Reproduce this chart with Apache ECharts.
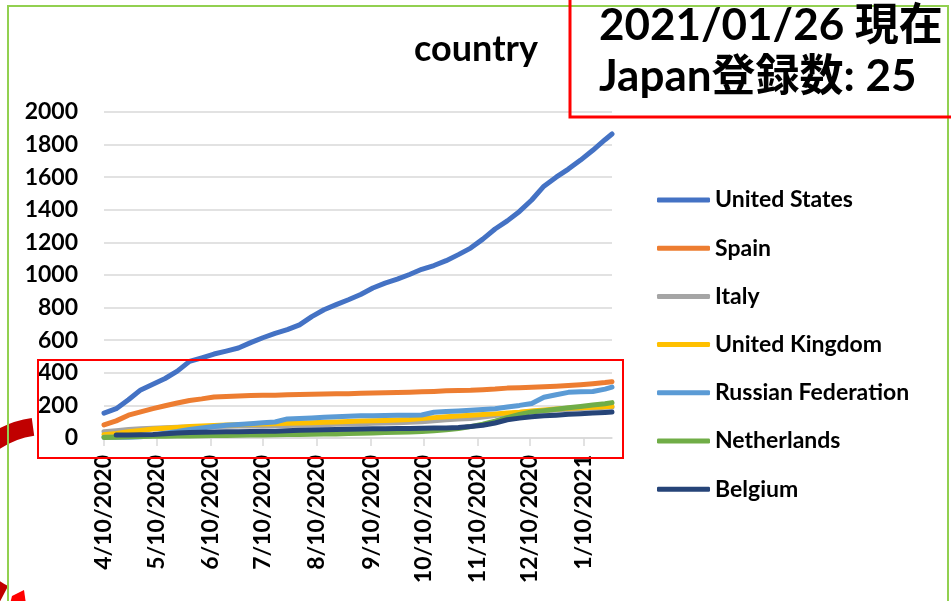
<!DOCTYPE html>
<html>
<head>
<meta charset="utf-8">
<style>
    html, body { margin: 0; padding: 0; background: #fff; }
    #box { width: 951px; height: 601px; }
</style>
<script src="https://cdn.jsdelivr.net/npm/echarts@6/dist/echarts.min.js"></script>
</head>
<body>
<div id="box"></div>
<script>
/* 数据 */
let names = ['United States', 'Spain', 'Italy', 'United Kingdom', 'Russian Federation', 'Netherlands', 'Belgium'];
let colors = ['#4472C4', '#ED7D31', '#A5A5A5', '#FFC000', '#5B9BD5', '#70AD47', '#264478'];
let dates = ['4/10/2020', '4/17/2020', '4/24/2020', '5/1/2020', '5/8/2020', '5/15/2020', '5/22/2020', '5/29/2020',
    '6/5/2020', '6/12/2020', '6/19/2020', '6/26/2020', '7/3/2020', '7/10/2020', '7/17/2020', '7/24/2020', '7/31/2020',
    '8/7/2020', '8/14/2020', '8/21/2020', '8/28/2020', '9/4/2020', '9/11/2020', '9/18/2020', '9/25/2020',
    '10/2/2020', '10/9/2020', '10/16/2020', '10/23/2020', '10/30/2020', '11/6/2020', '11/13/2020', '11/20/2020',
    '11/27/2020', '12/4/2020', '12/11/2020', '12/18/2020', '12/25/2020', '1/1/2021', '1/8/2021', '1/15/2021',
    '1/22/2021', '1/26/2021'];
let usData = [153, 180, 235, 295, 330, 365, 410, 470, 492, 515, 533, 552, 585, 615, 642, 665, 694, 745, 787, 818,
    848, 880, 920, 950, 975, 1003, 1035, 1058, 1088, 1125, 1165, 1220, 1282, 1332, 1390, 1460, 1545, 1600, 1650, 1705,
    1765, 1830, 1865];
let spainData = [80, 105, 140, 160, 180, 198, 215, 230, 240, 252, 255, 258, 260, 262, 263, 265, 267, 268, 270, 271,
    272, 274, 276, 277, 279, 281, 283, 286, 290, 292, 293, 296, 300, 306, 309, 311, 314, 318, 322, 327, 333, 340, 345];
let italyData = [38, 45, 52, 57, 60, 63, 66, 68, 70, 71, 72, 73, 74, 75, 76, 77, 78, 80, 82, 84,
    86, 88, 90, 92, 94, 97, 100, 106, 112, 116, 120, 128, 138, 148, 156, 162, 167, 172, 177, 181, 184, 188, 190];
let ukData = [20, 28, 38, 46, 55, 60, 65, 70, 74, 77, 80, 82, 84, 86, 88, 90, 92, 94, 96, 98,
    101, 104, 106, 108, 110, 113, 120, 125, 130, 135, 140, 144, 148, 153, 158, 165, 172, 178, 183, 186, 189, 192, 195];
let russiaData = [5, 5, 5, 8, 15, 30, 40, 52, 62, 70, 78, 83, 88, 93, 98, 117, 120, 123, 127, 130,
    134, 136, 137, 138, 139, 140, 141, 158, 162, 166, 170, 175, 180, 190, 200, 212, 250, 265, 280, 283, 285, 300, 312];
let nlData = [3, 5, 7, 9, 10, 11, 12, 13, 14, 15, 16, 17, 18, 19, 20, 21, 22, 23, 24, 25,
    27, 29, 31, 33, 35, 37, 40, 45, 50, 58, 70, 85, 103, 125, 145, 160, 168, 176, 185, 193, 202, 210, 217];
let belgiumData = [null, 18, 18, 20, 22, 26, 30, 33, 36, 37, 38, 39, 40, 41, 42, 44, 47, 49, 50, 52,
    54, 55, 56, 57, 58, 59, 60, 61, 62, 65, 70, 78, 92, 112, 122, 130, 136, 140, 145, 149, 153, 157, 160];
let yTicks = [0, 2000, 200];
let stamp = ['2021/01/26 現在', 'Japan登録数: 25'];

let font = 'Lato, "Noto Sans CJK JP", sans-serif';

/* 日別のカテゴリ（4/10/2020 ～ 1/26/2021） */
let makeDays = function (first, last) {
    let out = [];
    let p = first.split('/').map(Number);
    let q = last.split('/').map(Number);
    let d = new Date(p[2], p[0] - 1, p[1]);
    let end = new Date(q[2], q[0] - 1, q[1]);
    while (d <= end) {
        out.push((d.getMonth() + 1) + '/' + d.getDate() + '/' + d.getFullYear());
        d.setDate(d.getDate() + 1);
    }
    return out;
};

let lineCharts = function () {
    let days = makeDays(dates[0], dates[dates.length - 1]);
    let all = [usData, spainData, italyData, ukData, russiaData, nlData, belgiumData];
    let isTenth = function (i, v) {
        return v.split('/')[1] === '10';
    };
    let series = all.map(function (vals, k) {
        let pts = [];
        vals.forEach(function (v, i) {
            if (v !== null) pts.push([dates[i], v]);
        });
        return {
            name: names[k],
            type: 'line',
            data: pts,
            symbol: 'none',
            lineStyle: { width: 5, cap: 'round', join: 'round' }
        };
    });

    let box = document.getElementById('box');
    let myChart = echarts.init(box);
    let options = {
        animation: false,
        color: colors,
        grid: { left: 104, right: 339, top: 112, bottom: 163 },
        legend: {
            orient: 'vertical',
            left: 652,
            top: 183,
            icon: 'roundRect',
            itemWidth: 53,
            itemHeight: 5,
            itemGap: 24.2,
            data: names,
            textStyle: { fontFamily: font, fontSize: 23, fontWeight: 'bold', color: '#000', lineHeight: 24 }
        },
        xAxis: {
            type: 'category',
            data: days,
            boundaryGap: false,
            axisLine: { lineStyle: { color: '#D9D9D9', width: 1.5 } },
            axisTick: { interval: isTenth, length: 8, lineStyle: { color: '#D9D9D9', width: 1.5 } },
            axisLabel: {
                interval: isTenth,
                rotate: 90,
                margin: 17,
                fontFamily: font,
                fontSize: 23,
                fontWeight: 'bold',
                color: '#000'
            }
        },
        yAxis: {
            type: 'value',
            min: yTicks[0],
            max: yTicks[1],
            interval: yTicks[2],
            axisLine: { show: false },
            axisTick: { show: false },
            splitLine: { lineStyle: { color: '#D9D9D9', width: 1.5 } },
            axisLabel: {
                margin: 26, fontFamily: font, fontSize: 23, fontWeight: 'bold', color: '#000',
                formatter: function (v) { return String(v); }
            }
        },
        graphic: [
            {
                type: 'rect', z: 100,
                shape: { x: 8, y: 6, width: 940, height: 620 },
                style: { fill: 'none', stroke: '#92D050', lineWidth: 2 }
            },
            {
                type: 'rect', z: 100,
                shape: { x: 38, y: 360, width: 585, height: 98 },
                style: { fill: 'none', stroke: '#FF0000', lineWidth: 2 }
            },
            {
                type: 'rect', z: 100,
                shape: { x: 570, y: -10, width: 400, height: 127 },
                style: { fill: 'none', stroke: '#FF0000', lineWidth: 3 }
            },
            {
                type: 'text', z: 101, x: 476, y: 49,
                style: {
                    text: 'country', fill: '#000', font: 'bold 36px ' + font,
                    textAlign: 'center', textVerticalAlign: 'middle'
                }
            },
            {
                type: 'text', z: 101, x: 599, y: 26,
                style: {
                    text: stamp[0], fill: '#000', font: 'bold 44px ' + font,
                    textAlign: 'left', textVerticalAlign: 'middle'
                }
            },
            {
                type: 'text', z: 101, x: 599, y: 77,
                style: {
                    text: stamp[1], fill: '#000', font: 'bold 44px ' + font,
                    textAlign: 'left', textVerticalAlign: 'middle'
                }
            },
            {
                type: 'arc', z: 99,
                shape: { cx: 45, cy: 515, r: 89, startAngle: 2.05, endAngle: 4.577, clockwise: true },
                style: { fill: 'none', stroke: '#C00000', lineWidth: 18, lineCap: 'butt' }
            },
            {
                type: 'polygon', z: 99,
                shape: { points: [[12, 596], [24, 590], [26, 604], [10, 604]] },
                style: { fill: '#FF0000' }
            }
        ],
        series: series
    };
    myChart.setOption(options);
};

lineCharts();
</script>
</body>
</html>
